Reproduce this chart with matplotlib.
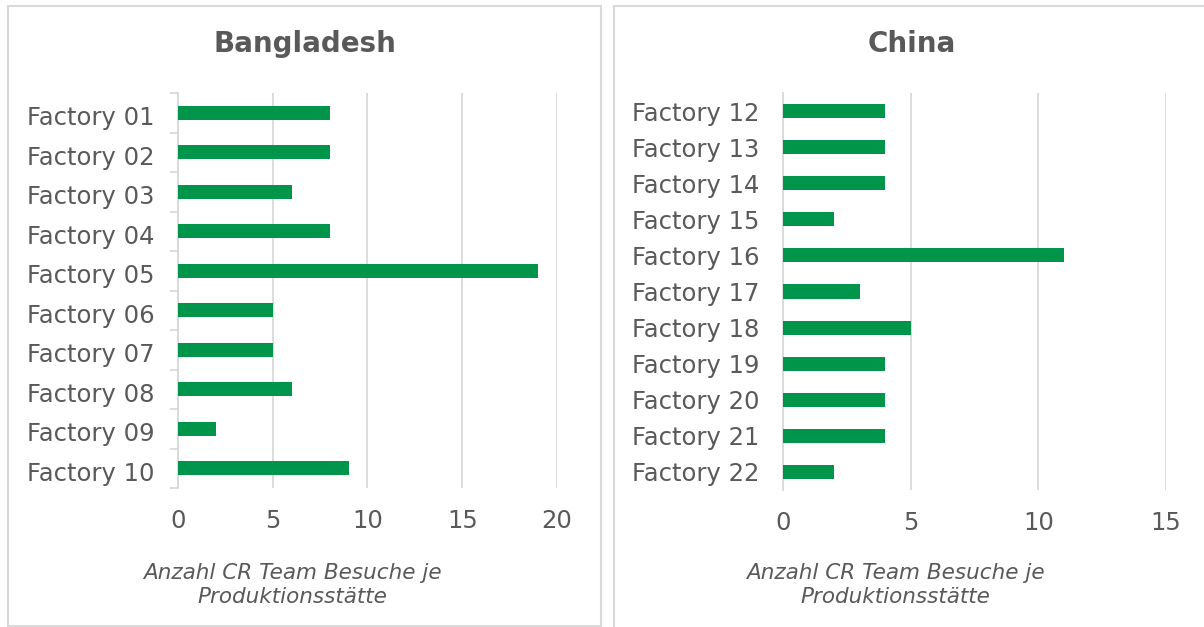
import matplotlib.pyplot as plt
from matplotlib.patches import Rectangle
from matplotlib.ticker import MultipleLocator, FixedLocator
from matplotlib.transforms import ScaledTranslation

# data
bd_factories = ['Factory 01', 'Factory 02', 'Factory 03', 'Factory 04', 'Factory 05',
                'Factory 06', 'Factory 07', 'Factory 08', 'Factory 09', 'Factory 10']
bd_visits = [8, 8, 6, 8, 19, 5, 5, 6, 2, 9]

cn_factories = ['Factory 12', 'Factory 13', 'Factory 14', 'Factory 15', 'Factory 16',
                'Factory 17', 'Factory 18', 'Factory 19', 'Factory 20', 'Factory 21',
                'Factory 22']
cn_visits = [4, 4, 4, 2, 11, 3, 5, 4, 4, 4, 2]

xlabel = 'Anzahl CR Team Besuche je\nProduktionsstätte'

green = '#00954A'
text_c = '#595959'
line_c = '#D9D9D9'

W, H = 1204, 627
fig = plt.figure(figsize=(W / 100, H / 100), dpi=100)

# panel frames (pixel coords -> figure fraction)
def frame(x0, y0, x1, y1):
    fig.patches.append(Rectangle((x0 / W, 1 - y1 / H), (x1 - x0) / W, (y1 - y0) / H,
                                 transform=fig.transFigure, fill=False,
                                 edgecolor=line_c, lw=1.5))

frame(8, 6, 601, 626)
frame(614, 6, 1215, 640)


def panel(px0, px1, py0, py1, names, vals, xmax, bar_h, ticks_left, title, tx, lx):
    ax = fig.add_axes([px0 / W, 1 - py1 / H, (px1 - px0) / W, (py1 - py0) / H])
    y = list(range(len(names)))
    ax.barh(y, vals, height=bar_h, color=green, zorder=3)
    ax.set_ylim(len(names) - 0.5, -0.5)
    ax.set_xlim(0, xmax)
    ax.xaxis.set_major_locator(MultipleLocator(5))
    ax.set_yticks(y)
    ax.set_yticklabels(names)
    ax.grid(axis='x', color=line_c, lw=1.3, zorder=0)
    for s in ['top', 'right', 'bottom']:
        ax.spines[s].set_visible(False)
    ax.spines['left'].set_color(line_c)
    ax.spines['left'].set_linewidth(1.3)
    ax.tick_params(axis='both', length=0, labelsize=17.5, labelcolor=text_c)
    ax.tick_params(axis='x', pad=15)
    ax.tick_params(axis='y', pad=17)
    if ticks_left:
        ax.yaxis.set_minor_locator(FixedLocator([i - 0.5 for i in range(len(names) + 1)]))
        ax.tick_params(axis='y', which='minor', length=6, width=1.3, color=line_c)
        # labels sit a little below the bars in the original
        shift = ScaledTranslation(0, -3 / 100, fig.dpi_scale_trans)
        for lab in ax.get_yticklabels():
            lab.set_transform(lab.get_transform() + shift)
    fig.text(tx / W, 1 - 44 / H, title, ha='center', va='center', fontsize=20,
             fontweight='bold', color=text_c)
    fig.text(lx / W, 1 - 585 / H, xlabel, ha='center', va='center', fontsize=15.5,
             style='italic', color=text_c, linespacing=1.2)
    return ax


panel(178, 557, 93, 488, bd_factories, bd_visits, 20, 0.36, True, 'Bangladesh', 305, 292)
panel(783, 1166, 93, 490, cn_factories, cn_visits, 15, 0.39, False, 'China', 912, 895)

fig.savefig('out.png', dpi=100)
